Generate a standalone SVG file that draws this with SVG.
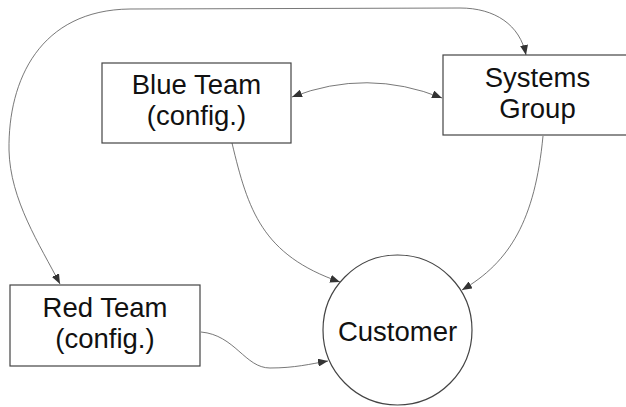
<svg xmlns="http://www.w3.org/2000/svg" width="626" height="407" viewBox="0 0 626 407">
<style>
.box{fill:#fff;stroke:#444;stroke-width:1.2}
.lbl{font-family:"Liberation Sans",Arial,sans-serif;font-size:27.5px;fill:#111;text-anchor:middle}
.edge{fill:none;stroke:#555;stroke-width:0.8}
</style>
<defs>
<marker id="ah" viewBox="0 0 10 8" refX="10" refY="4" markerWidth="10" markerHeight="8" markerUnits="userSpaceOnUse" orient="auto-start-reverse">
<path d="M0,0 L10,4 L0,8 Z" fill="#333"/>
</marker>
</defs>
<g id="connectors">
<path class="edge" d="M60,284 C40,245 10,200 9,150 C8,80 40,10 130,9 L460,8 C495,8 520,25 526,55" marker-start="url(#ah)" marker-end="url(#ah)"/>
<path class="edge" d="M292,97 Q367,68 442,98" marker-start="url(#ah)" marker-end="url(#ah)"/>
<path class="edge" d="M232,143 C248,210 262,255 340,282" marker-end="url(#ah)"/>
<path class="edge" d="M543,136 C535,220 510,262 462,290" marker-end="url(#ah)"/>
<path class="edge" d="M201,332 C235,335 245,368 270,368 C295,368 310,364 328,361" marker-end="url(#ah)"/>
</g>
<g id="blue">
<rect class="box" x="102" y="63" width="189" height="80"/>
<text class="lbl" x="196.5" y="94">Blue Team</text>
<text class="lbl" x="196.5" y="125">(config.)</text>
</g>
<g id="systems">
<rect class="box" x="443" y="55" width="189" height="80"/>
<text class="lbl" x="537.5" y="87">Systems</text>
<text class="lbl" x="537.5" y="118">Group</text>
</g>
<g id="red">
<rect class="box" x="10" y="285" width="190" height="81"/>
<text class="lbl" x="105" y="317">Red Team</text>
<text class="lbl" x="105" y="348">(config.)</text>
</g>
<g id="customer">
<ellipse class="box" cx="397.5" cy="330" rx="74.5" ry="75"/>
<text class="lbl" x="397.5" y="341">Customer</text>
</g>
</svg>
